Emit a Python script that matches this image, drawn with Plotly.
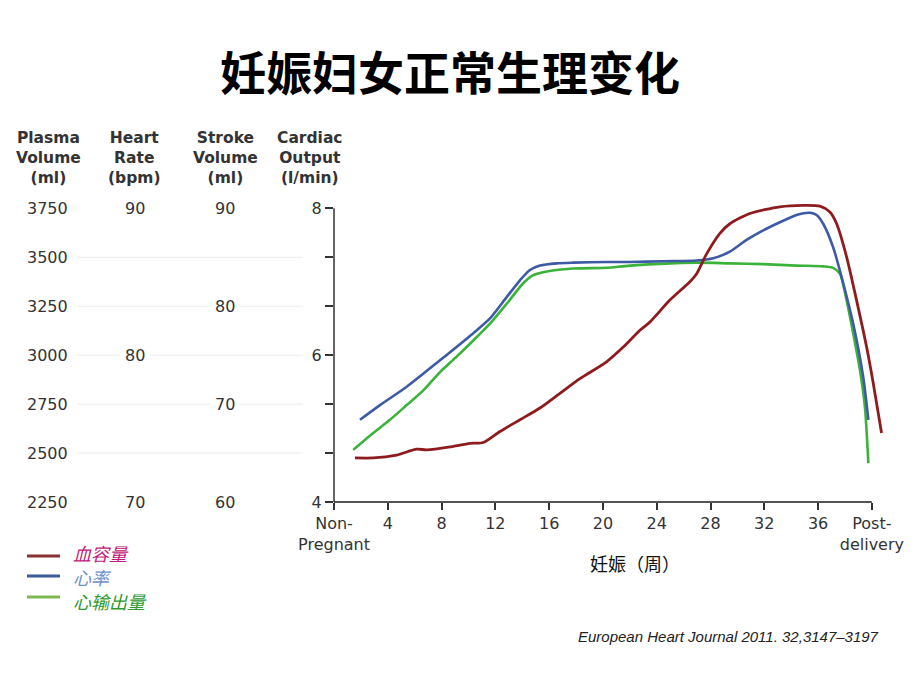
import plotly.graph_objects as go

# ---------------- data ----------------
x_tickvals = [0, 4, 8, 12, 16, 20, 24, 28, 32, 36, 40]
x_ticktext = ["Non-<br>Pregnant", "4", "8", "12", "16", "20", "24", "28", "32", "36", "Post-<br>delivery"]

# 血容量 (plasma volume, plotted on cardiac-output scale)
red_x = [1.56, 2.92, 4.66, 6.15, 6.89, 8.62, 10.11, 11.10, 12.34, 13.83, 15.32, 16.80, 18.29,
         20.27, 21.51, 22.75, 23.49, 24.98, 26.47, 26.97, 27.71, 28.70, 29.44, 30.93, 33.16,
         34.89, 36.13, 36.88, 37.38, 38.12, 38.86, 39.61, 40.10, 40.72]
red_y = [4.60, 4.60, 4.64, 4.72, 4.71, 4.75, 4.80, 4.81, 4.96, 5.12, 5.28, 5.48, 5.68,
         5.91, 6.11, 6.34, 6.45, 6.75, 7.00, 7.11, 7.38, 7.66, 7.79, 7.93, 8.02,
         8.04, 8.03, 7.95, 7.79, 7.34, 6.75, 6.11, 5.62, 4.94]

# 心率 (heart rate)
blue_x = [1.93, 3.42, 5.41, 7.88, 10.36, 11.60, 12.84, 13.83, 14.57, 15.32, 16.56, 17.79,
          20.27, 22.0, 24.48, 26.97, 28.20, 29.44, 30.68, 31.92, 33.16, 34.40, 35.39, 35.89,
          36.38, 37.12, 37.87, 38.61, 39.35, 39.74]
blue_y = [5.12, 5.32, 5.57, 5.93, 6.30, 6.50, 6.79, 7.02, 7.16, 7.22, 7.25, 7.26,
          7.27, 7.27, 7.28, 7.29, 7.32, 7.41, 7.57, 7.70, 7.81, 7.91, 7.94, 7.91,
          7.79, 7.47, 6.98, 6.43, 5.71, 5.12]

# 心输出量 (cardiac output)
green_x = [1.43, 2.92, 4.16, 5.41, 6.64, 7.88, 9.12, 10.36, 11.60, 12.84, 14.07, 14.82, 15.56,
           17.79, 20.27, 22.01, 26.97, 29.44, 31.92, 34.40, 36.38, 37.12, 37.62, 38.12,
           38.61, 39.11, 39.48, 39.74]
green_y = [4.71, 4.94, 5.12, 5.32, 5.52, 5.77, 5.98, 6.20, 6.43, 6.70, 6.98, 7.09, 7.13,
           7.18, 7.19, 7.22, 7.26, 7.25, 7.24, 7.22, 7.21, 7.19, 7.11, 6.75,
           6.30, 5.80, 5.30, 4.53]

co_ticks = [4, 4 + 2 / 3, 4 + 4 / 3, 6, 6 + 2 / 3, 6 + 4 / 3, 8]
co_labels = ["4", "", "", "6", "", "", "8"]
plasma_labels = [3750, 3500, 3250, 3000, 2750, 2500, 2250]
hr_labels = [90, 80, 70]
sv_labels = [90, 80, 70, 60]

legend_names = ["血容量", "心率", "心输出量"]

# ---------------- layout geometry ----------------
W, H = 920, 690
L, R, T, B = 334, 32, 201, 188
XMAX, YMIN, YMAX = 41.2, 4.0, 8.1
pw, ph = W - L - R, H - T - B


def px(x):  # pixel x -> paper
    return (x - L) / pw


def py(y):  # pixel y -> paper
    return (H - B - y) / ph


def dy(v):  # data y -> paper
    return (v - YMIN) / (YMAX - YMIN)


def dx(v):
    return v / XMAX


RED, BLUE, GREEN = "#8e1c1f", "#3d5aa6", "#3cb23a"
TXT = "#333333"
FONT = "DejaVu Sans"
CJK = "Noto Sans CJK SC"

fig = go.Figure()
for xs, ys, c, w in [(green_x, green_y, GREEN, 2.6), (blue_x, blue_y, BLUE, 2.6), (red_x, red_y, RED, 2.8)]:
    fig.add_trace(go.Scatter(x=xs, y=ys, mode="lines",
                             line=dict(color=c, width=w, shape="spline", smoothing=0.7),
                             showlegend=False, hoverinfo="skip"))

shapes = []
# axes lines
shapes.append(dict(type="line", xref="paper", yref="paper", x0=0, x1=dx(40), y0=0, y1=0,
                   line=dict(color="#555555", width=2)))
shapes.append(dict(type="line", xref="paper", yref="paper", x0=0, x1=0, y0=0, y1=dy(8),
                   line=dict(color=TXT, width=1.5)))
# faint grid lines in the left table
for v in co_ticks[1:-1]:
    shapes.append(dict(type="line", xref="paper", yref="paper", x0=px(77), x1=px(303),
                       y0=dy(v), y1=dy(v), line=dict(color="#ececec", width=1), layer="below"))

annotations = []
# title
annotations.append(dict(text="<b>妊娠妇女正常生理变化</b>", x=px(450), y=py(70), xref="paper", yref="paper",
                        showarrow=False, font=dict(family=CJK, size=46, color="#000000"),
                        xanchor="center", yanchor="middle"))
# column headers
for txt, cx in [("Plasma<br>Volume<br>(ml)", 48), ("Heart<br>Rate<br>(bpm)", 134),
                ("Stroke<br>Volume<br>(ml)", 225), ("Cardiac<br>Output<br>(l/min)", 310)]:
    annotations.append(dict(text="<b>" + txt + "</b>", x=px(cx), y=py(158), xref="paper", yref="paper",
                            showarrow=False, font=dict(family=FONT, size=15.5, color=TXT),
                            xanchor="center", yanchor="middle"))
# column values
for v in plasma_labels:
    annotations.append(dict(text=str(v), x=px(47), y=dy(4 + (v - 2250) / 1500 * 4), xref="paper",
                            yref="paper", showarrow=False, font=dict(family=FONT, size=16, color=TXT),
                            xanchor="center", yanchor="middle"))
for v in hr_labels:
    annotations.append(dict(text=str(v), x=px(135), y=dy(4 + (v - 70) / 20 * 4), xref="paper",
                            yref="paper", showarrow=False, font=dict(family=FONT, size=16, color=TXT),
                            xanchor="center", yanchor="middle", bgcolor="white", borderpad=4))
for v in sv_labels:
    annotations.append(dict(text=str(v), x=px(225), y=dy(4 + (v - 60) / 30 * 4), xref="paper",
                            yref="paper", showarrow=False, font=dict(family=FONT, size=16, color=TXT),
                            xanchor="center", yanchor="middle", bgcolor="white", borderpad=4))
# x-axis title
annotations.append(dict(text="妊娠（周）", x=px(635), y=py(563), xref="paper", yref="paper",
                        showarrow=False, font=dict(family=CJK, size=18, color="#111111"),
                        xanchor="center", yanchor="middle"))
# legend
leg_line_colors = ["#8a3030", "#3d5a9a", "#7fb852"]
leg_text_colors = ["#c2187a", "#7090cc", "#2e9a2e"]
leg_line_y = [556, 576, 597]
leg_text_y = [553, 577, 601]
for name, lc, tc, ly, ty in zip(legend_names, leg_line_colors, leg_text_colors, leg_line_y, leg_text_y):
    shapes.append(dict(type="line", xref="paper", yref="paper", x0=px(27), x1=px(60),
                       y0=py(ly), y1=py(ly), line=dict(color=lc, width=3)))
    annotations.append(dict(text="<i>" + name + "</i>", x=px(71), y=py(ty), xref="paper", yref="paper",
                            showarrow=False, font=dict(family=CJK, size=18, color=tc),
                            xanchor="left", yanchor="middle"))
# citation
annotations.append(dict(text="<i>European Heart Journal 2011. 32,3147–3197</i>", x=px(881), y=py(636),
                        xref="paper", yref="paper", showarrow=False,
                        font=dict(family="Liberation Sans", size=15, color="#222222"),
                        xanchor="right", yanchor="middle"))

fig.update_layout(
    width=W, height=H, margin=dict(l=L, r=R, t=T, b=B),
    paper_bgcolor="white", plot_bgcolor="white",
    shapes=shapes, annotations=annotations, showlegend=False,
    xaxis=dict(range=[0, XMAX], tickvals=x_tickvals, ticktext=x_ticktext, ticks="outside",
               ticklen=7, tickwidth=1.5, tickcolor=TXT, showline=False, showgrid=False, zeroline=False,
               tickfont=dict(family=FONT, size=16, color=TXT), fixedrange=True),
    yaxis=dict(range=[YMIN, YMAX], tickvals=co_ticks, ticktext=co_labels, ticks="outside",
               ticklen=8, tickwidth=1.5, tickcolor=TXT, showline=False, showgrid=False, zeroline=False,
               tickfont=dict(family=FONT, size=16, color=TXT), fixedrange=True),
)

fig.write_html("out.html")
